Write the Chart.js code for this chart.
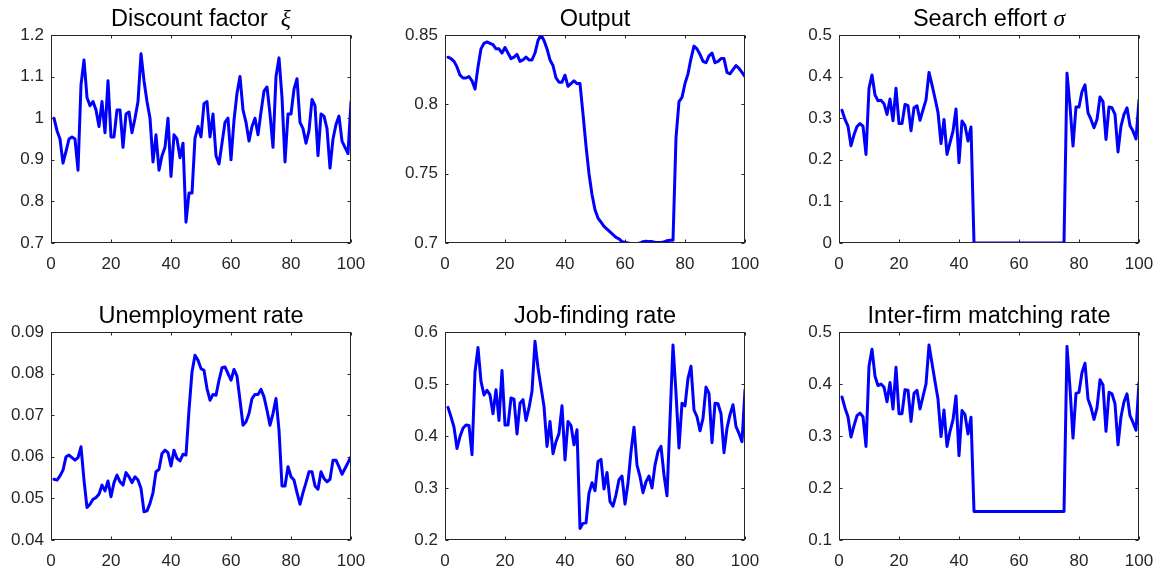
<!DOCTYPE html>
<html lang="en">
<head>
<meta charset="UTF-8">
<title>Simulated paths</title>
<script src="https://cdn.jsdelivr.net/npm/chart.js"></script>
<style>
  body { margin: 0; background: #fff; font-family: "Liberation Sans", Arial, sans-serif; }
  #page { position: relative; width: 1158px; height: 570px; overflow: hidden; }
  .panel { position: absolute; width: 370px; height: 250px; }
  .title { position: absolute; width: 300px; text-align: center; font-size: 23.5px; line-height: 23px; color: #000; white-space: nowrap; z-index: 2; }
  .title i { font-family: "Liberation Serif", "DejaVu Serif", serif; }
</style>
</head>
<body>
<div id="page">
  <div class="title" style="left:51px; top:7px;">Discount factor &nbsp;<i>ξ</i></div>
  <div class="title" style="left:445px; top:7px;">Output</div>
  <div class="title" style="left:839px; top:7px;">Search effort <i>σ</i></div>
  <div class="title" style="left:51px; top:304px;">Unemployment rate</div>
  <div class="title" style="left:445px; top:304px;">Job-finding rate</div>
  <div class="title" style="left:839px; top:304px;">Inter-firm matching rate</div>

  <div class="panel" style="left:1px; top:23px;"><canvas id="c1"></canvas></div>
  <div class="panel" style="left:395px; top:23px;"><canvas id="c2"></canvas></div>
  <div class="panel" style="left:789px; top:23px;"><canvas id="c3"></canvas></div>
  <div class="panel" style="left:1px; top:320px;"><canvas id="c4"></canvas></div>
  <div class="panel" style="left:395px; top:320px;"><canvas id="c5"></canvas></div>
  <div class="panel" style="left:789px; top:320px;"><canvas id="c6"></canvas></div>
</div>

<script>
// periods 1..100
const periods = Array.from({ length: 100 }, (_, i) => i + 1);

const discount = [
  1.0, 0.97, 0.95, 0.892, 0.92, 0.95, 0.955, 0.95, 0.875, 1.08,
  1.14, 1.05, 1.03, 1.04, 1.02, 0.98, 1.04, 0.965, 1.09, 0.955,
  0.955, 1.02, 1.02, 0.93, 1.01, 1.015, 0.965, 1.0, 1.04, 1.155,
  1.09, 1.04, 1.0, 0.895, 0.96, 0.875, 0.91, 0.93, 1.0, 0.86,
  0.96, 0.95, 0.905, 0.94, 0.75, 0.82, 0.82, 0.952, 0.98, 0.955,
  1.035, 1.04, 0.955, 1.01, 0.91, 0.89, 0.94, 0.99, 1.0, 0.9,
  0.995, 1.06, 1.1, 1.02, 0.99, 0.945, 0.98, 1.0, 0.96, 1.015,
  1.065, 1.075, 1.01, 0.93, 1.1, 1.145, 1.05, 0.895, 1.01, 1.01,
  1.07, 1.095, 0.99, 0.975, 0.94, 0.97, 1.045, 1.03, 0.91, 1.01,
  1.005, 0.975, 0.88, 0.95, 0.985, 1.005, 0.945, 0.93, 0.915, 1.04
];

const output = [
  0.834, 0.833, 0.831, 0.827, 0.821, 0.819, 0.819, 0.82, 0.817, 0.811,
  0.827, 0.84, 0.844, 0.845, 0.844, 0.843, 0.84, 0.84, 0.837, 0.841,
  0.837, 0.833, 0.834, 0.836, 0.831, 0.832, 0.834, 0.832, 0.832, 0.837,
  0.846, 0.85, 0.846, 0.84, 0.832, 0.828, 0.819, 0.816, 0.816, 0.821,
  0.813, 0.815, 0.817, 0.815, 0.815, 0.793, 0.77, 0.75, 0.735, 0.724,
  0.718, 0.715, 0.712, 0.71, 0.708, 0.706, 0.704, 0.703, 0.701, 0.7006,
  0.7, 0.6995, 0.6985, 0.6995, 0.7, 0.701, 0.7013, 0.701, 0.701, 0.7005,
  0.7003, 0.7003, 0.7007, 0.7017, 0.702, 0.702, 0.776, 0.802, 0.805, 0.815,
  0.822, 0.833, 0.842, 0.84, 0.836, 0.831, 0.83, 0.835, 0.837, 0.83,
  0.831, 0.833, 0.833, 0.823, 0.822, 0.825, 0.828, 0.826, 0.823, 0.82
];

const searchEffort = [
  0.319, 0.297, 0.281, 0.234, 0.26, 0.28, 0.287, 0.281, 0.213, 0.372,
  0.404, 0.356, 0.342, 0.343, 0.335, 0.309, 0.346, 0.294, 0.372, 0.287,
  0.287, 0.333, 0.33, 0.27, 0.325, 0.33, 0.295, 0.32, 0.344, 0.41,
  0.38, 0.348, 0.314, 0.239, 0.297, 0.213, 0.241, 0.269, 0.322, 0.193,
  0.293, 0.282, 0.245, 0.279, 0, 0, 0, 0, 0, 0,
  0, 0, 0, 0, 0, 0, 0, 0, 0, 0,
  0, 0, 0, 0, 0, 0, 0, 0, 0, 0,
  0, 0, 0, 0, 0, 0.408, 0.329, 0.233, 0.327, 0.327,
  0.364, 0.38, 0.313, 0.297, 0.277, 0.297, 0.351, 0.34, 0.249, 0.327,
  0.325, 0.309, 0.219, 0.281, 0.309, 0.325, 0.282, 0.269, 0.25, 0.344
];

const unemployment = [
  0.0546, 0.0544, 0.0554, 0.0568, 0.06, 0.0604, 0.0598, 0.0592, 0.0598, 0.0624,
  0.0544, 0.0478, 0.0486, 0.0498, 0.0502, 0.051, 0.0532, 0.0518, 0.0542, 0.0504,
  0.0538, 0.0556, 0.054, 0.0532, 0.0562, 0.0552, 0.0538, 0.0552, 0.0544, 0.0524,
  0.0468, 0.047, 0.0488, 0.0514, 0.0564, 0.057, 0.0608, 0.0616, 0.061, 0.0578,
  0.0616, 0.0596, 0.059, 0.0606, 0.0604, 0.0712, 0.0804, 0.0844, 0.0832, 0.0812,
  0.0808, 0.0764, 0.0736, 0.075, 0.0748, 0.0784, 0.0814, 0.0816, 0.08, 0.0784,
  0.081, 0.0794, 0.0736, 0.0676, 0.0684, 0.0704, 0.074, 0.075, 0.075, 0.0762,
  0.0744, 0.0712, 0.0676, 0.0704, 0.074, 0.0664, 0.053, 0.053, 0.0576, 0.0552,
  0.0544, 0.0514, 0.0486, 0.0514, 0.0538, 0.0564, 0.0564, 0.053, 0.0522, 0.0564,
  0.0548, 0.054, 0.0546, 0.0592, 0.0592, 0.0576, 0.0558, 0.0572, 0.0586, 0.06
];

const jobFinding = [
  0.455, 0.437, 0.417, 0.376, 0.399, 0.415, 0.421, 0.42, 0.364, 0.523,
  0.57, 0.505, 0.479, 0.488, 0.479, 0.443, 0.489, 0.43, 0.526, 0.421,
  0.421, 0.473, 0.471, 0.404, 0.463, 0.47, 0.43, 0.454, 0.486, 0.582,
  0.531, 0.494, 0.457, 0.38, 0.428, 0.366, 0.389, 0.405, 0.458, 0.354,
  0.428, 0.42, 0.383, 0.412, 0.222, 0.232, 0.233, 0.29, 0.31, 0.295,
  0.351, 0.355, 0.298, 0.33, 0.274, 0.265, 0.287, 0.316, 0.323, 0.269,
  0.309, 0.37, 0.417, 0.344, 0.322, 0.291, 0.312, 0.323, 0.3, 0.344,
  0.37, 0.38, 0.325, 0.285, 0.431, 0.575, 0.482, 0.377, 0.463, 0.458,
  0.511, 0.534, 0.45, 0.437, 0.41, 0.434, 0.494, 0.482, 0.387, 0.463,
  0.462, 0.443, 0.368, 0.415, 0.441, 0.46, 0.418, 0.405, 0.389, 0.489
];

const matching = [
  0.375, 0.354, 0.337, 0.298, 0.32, 0.339, 0.344, 0.337, 0.28, 0.434,
  0.467, 0.415, 0.397, 0.4, 0.394, 0.366, 0.403, 0.352, 0.432, 0.343,
  0.343, 0.389, 0.388, 0.328, 0.382, 0.388, 0.352, 0.376, 0.4, 0.475,
  0.44, 0.405, 0.371, 0.299, 0.35, 0.28, 0.309, 0.331, 0.377, 0.262,
  0.349, 0.341, 0.304, 0.336, 0.155, 0.155, 0.155, 0.155, 0.155, 0.155,
  0.155, 0.155, 0.155, 0.155, 0.155, 0.155, 0.155, 0.155, 0.155, 0.155,
  0.155, 0.155, 0.155, 0.155, 0.155, 0.155, 0.155, 0.155, 0.155, 0.155,
  0.155, 0.155, 0.155, 0.155, 0.155, 0.472, 0.392, 0.296, 0.382, 0.384,
  0.422, 0.44, 0.371, 0.355, 0.332, 0.354, 0.408, 0.398, 0.309, 0.384,
  0.381, 0.362, 0.283, 0.337, 0.366, 0.381, 0.339, 0.326, 0.311, 0.403
];

const axisColor = '#262626';
Chart.defaults.font.family = '"Liberation Sans", Arial, sans-serif';

// matlab-style box with inward ticks on all four sides
const boxPlugin = {
  id: 'matlabBox',
  afterDatasetsDraw(chart) {
    const { ctx, chartArea: a, scales: { x, y } } = chart;
    const L = Math.round(a.left) + 0.5, R = Math.round(a.right) - 0.5;
    const T = Math.round(a.top) + 0.5, B = Math.round(a.bottom) - 0.5;
    const len = 3;
    ctx.save();
    ctx.strokeStyle = axisColor;
    ctx.lineWidth = 1;
    ctx.strokeRect(L, T, R - L, B - T);
    ctx.beginPath();
    x.ticks.forEach(t => {
      const px = Math.round(x.getPixelForValue(t.value)) + 0.5;
      ctx.moveTo(px, B); ctx.lineTo(px, B - len);
      ctx.moveTo(px, T); ctx.lineTo(px, T + len);
    });
    y.ticks.forEach(t => {
      const py = Math.round(y.getPixelForValue(t.value)) + 0.5;
      ctx.moveTo(L, py); ctx.lineTo(L + len, py);
      ctx.moveTo(R, py); ctx.lineTo(R - len, py);
    });
    ctx.stroke();
    ctx.restore();
  }
};

function makeChart(id, values, yMin, yMax, yStep) {
  new Chart(document.getElementById(id), {
    type: 'line',
    data: {
      datasets: [{
        data: values.map((v, i) => ({ x: periods[i], y: v })),
        borderColor: '#0000ff',
        borderWidth: 3,
        pointRadius: 0,
        tension: 0,
        borderJoinStyle: 'round',
        borderCapStyle: 'round'
      }]
    },
    options: {
      responsive: true,
      maintainAspectRatio: false,
      animation: false,
      layout: { padding: { top: 12, right: 20, left: 0, bottom: 0 } },
      plugins: { legend: { display: false }, tooltip: { enabled: false } },
      scales: {
        x: {
          type: 'linear', min: 0, max: 100,
          grid: { display: false, drawTicks: false },
          border: { display: false },
          ticks: { stepSize: 20, padding: 11, color: axisColor, font: { size: 17 }, maxRotation: 0 },
          afterFit: s => { s.height = 30; s.paddingLeft = 0; s.paddingRight = 0; }
        },
        y: {
          min: yMin, max: yMax,
          grid: { display: false, drawTicks: false },
          border: { display: false },
          ticks: {
            stepSize: yStep, padding: 7, color: axisColor, font: { size: 17 },
            callback: v => String(Number(v.toFixed(3)))
          },
          afterFit: s => { s.width = 50; s.paddingTop = 0; s.paddingBottom = 0; }
        }
      }
    },
    plugins: [boxPlugin]
  });
}

makeChart('c1', discount, 0.7, 1.2, 0.1);
makeChart('c2', output, 0.7, 0.85, 0.05);
makeChart('c3', searchEffort, 0, 0.5, 0.1);
makeChart('c4', unemployment, 0.04, 0.09, 0.01);
makeChart('c5', jobFinding, 0.2, 0.6, 0.1);
makeChart('c6', matching, 0.1, 0.5, 0.1);
</script>
</body>
</html>
